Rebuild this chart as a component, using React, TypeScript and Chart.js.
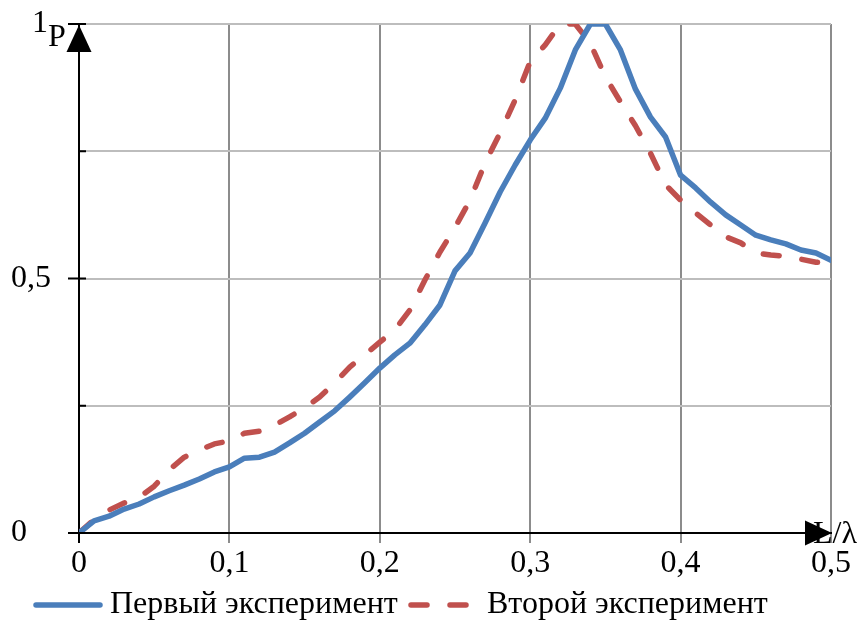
import React, { useEffect, useRef } from "react";
import { Chart, registerables } from "chart.js";

Chart.register(...registerables);

const xValues = [
  0, 0.01, 0.02, 0.03, 0.04, 0.05, 0.06, 0.07, 0.08, 0.09,
  0.1, 0.11, 0.12, 0.13, 0.14, 0.15, 0.16, 0.17, 0.18, 0.19,
  0.2, 0.21, 0.22, 0.23, 0.24, 0.25, 0.26, 0.27, 0.28, 0.29,
  0.3, 0.31, 0.32, 0.33, 0.34, 0.35, 0.36, 0.37, 0.38, 0.39,
  0.4, 0.41, 0.42, 0.43, 0.44, 0.45, 0.46, 0.47, 0.48, 0.49, 0.5,
];

const firstExperiment = [
  0, 0.024, 0.033, 0.047, 0.057, 0.071, 0.083, 0.094, 0.106, 0.12,
  0.13, 0.147, 0.149, 0.159, 0.177, 0.196, 0.218, 0.24, 0.267, 0.295,
  0.324, 0.35, 0.373, 0.409, 0.448, 0.515, 0.55, 0.609, 0.67, 0.723,
  0.772, 0.815, 0.874, 0.949, 1.0, 1.0, 0.949, 0.872, 0.817, 0.778,
  0.703, 0.678, 0.65, 0.625, 0.605, 0.585, 0.576, 0.568, 0.556, 0.55, 0.536,
];

const secondExperiment = [
  0, 0.026, 0.045, 0.059, 0.07, 0.092, 0.124, 0.149, 0.163, 0.175,
  0.181, 0.196, 0.2, 0.212, 0.228, 0.246, 0.267, 0.295, 0.326, 0.35,
  0.375, 0.399, 0.438, 0.497, 0.552, 0.6, 0.654, 0.727, 0.786, 0.851,
  0.926, 0.959, 1.0, 1.0, 0.962, 0.896, 0.847, 0.8, 0.746, 0.684,
  0.654, 0.629, 0.605, 0.582, 0.57, 0.55, 0.546, 0.544, 0.538, 0.532, 0.53,
];

const seriesLabels = ["Первый эксперимент", "Второй эксперимент"];
const yLabeled = [0, 0.5];
const yMajorTicks = [0, 0.5, 1];
const yMinorTicks = [0.25, 0.75];
const yTopLabel = "1";
const yAxisTitle = "P";
const xAxisTitle = "L/λ";

const BLUE = "#4a7ebb";
const RED = "#c0504d";
const FONT_FAMILY = "'Times New Roman', 'Liberation Serif', serif";
const FONT_SIZE = 32;
const LINE_W = 5.5;
const DASH = [16, 23];

const fmt = (v: number) => {
  const r = Math.round(v * 100) / 100;
  return String(r).replace(".", ",");
};

const decor = {
  id: "decor",
  afterDraw(chart: any) {
    const { ctx, chartArea, scales } = chart;
    const xs = scales.x;
    const ys = scales.y;
    const x0 = xs.getPixelForValue(0);
    const y0 = ys.getPixelForValue(0);
    ctx.save();
    ctx.strokeStyle = "#000";
    ctx.lineWidth = 2;
    yMajorTicks.forEach((v) => {
      const y = ys.getPixelForValue(v);
      ctx.beginPath();
      ctx.moveTo(x0 - 11, y);
      ctx.lineTo(x0 + 7, y);
      ctx.stroke();
    });
    yMinorTicks.forEach((v) => {
      const y = ys.getPixelForValue(v);
      ctx.beginPath();
      ctx.moveTo(x0, y);
      ctx.lineTo(x0 + 7, y);
      ctx.stroke();
    });
    ctx.fillStyle = "#000";
    ctx.font = `${FONT_SIZE}px ${FONT_FAMILY}`;
    const yTop = ys.getPixelForValue(1);
    ctx.textAlign = "right";
    ctx.textBaseline = "middle";
    ctx.fillText(yTopLabel, 48, yTop);
    ctx.textAlign = "left";
    ctx.textBaseline = "alphabetic";
    ctx.fillText(yAxisTitle, 48, yTop + 22);
    ctx.fillText(xAxisTitle, chartArea.right - 18, y0 + 10);
    ctx.beginPath();
    ctx.moveTo(x0, chartArea.top + 1);
    ctx.lineTo(x0 - 12.5, chartArea.top + 28);
    ctx.lineTo(x0 + 12.5, chartArea.top + 28);
    ctx.closePath();
    ctx.fill();
    const xr = chartArea.right + 1;
    ctx.beginPath();
    ctx.moveTo(xr, y0);
    ctx.lineTo(xr - 27, y0 - 12.5);
    ctx.lineTo(xr - 27, y0 + 12.5);
    ctx.closePath();
    ctx.fill();
    const ly = 605;
    ctx.lineWidth = LINE_W;
    ctx.lineCap = "round";
    ctx.strokeStyle = BLUE;
    ctx.setLineDash([]);
    ctx.beginPath();
    ctx.moveTo(36, ly);
    ctx.lineTo(100, ly);
    ctx.stroke();
    ctx.strokeStyle = RED;
    ctx.setLineDash(DASH);
    ctx.beginPath();
    ctx.moveTo(411, ly);
    ctx.lineTo(468, ly);
    ctx.stroke();
    ctx.setLineDash([]);
    ctx.textBaseline = "middle";
    ctx.fillText(seriesLabels[0], 110, ly);
    ctx.fillText(seriesLabels[1], 487, ly);
    ctx.restore();
  },
};

export default function App() {
  const ref = useRef<HTMLCanvasElement | null>(null);
  useEffect(() => {
    if (!ref.current) return;
    const font = { family: FONT_FAMILY, size: FONT_SIZE };
    const chart = new Chart(ref.current, {
      type: "line",
      data: {
        datasets: [
          {
            label: seriesLabels[0],
            data: xValues.map((x, i) => ({ x, y: firstExperiment[i] })),
            borderColor: BLUE,
            backgroundColor: BLUE,
            borderWidth: LINE_W,
            pointRadius: 0,
            tension: 0,
            borderJoinStyle: "round",
            borderCapStyle: "round",
            fill: false,
          },
          {
            label: seriesLabels[1],
            data: xValues.map((x, i) => ({ x, y: secondExperiment[i] })),
            borderColor: RED,
            backgroundColor: RED,
            borderWidth: LINE_W,
            borderDash: DASH,
            pointRadius: 0,
            tension: 0,
            borderJoinStyle: "round",
            borderCapStyle: "round",
            fill: false,
          },
        ],
      },
      options: {
        responsive: false,
        animation: false,
        devicePixelRatio: 1,
        layout: { padding: { left: 11, top: 24, right: 34, bottom: 0 } },
        plugins: { legend: { display: false }, tooltip: { enabled: false } },
        scales: {
          x: {
            type: "linear",
            min: 0,
            max: 0.5,
            ticks: {
              stepSize: 0.1,
              callback: (v: any) => fmt(Number(v)),
              font,
              color: "#000",
              padding: 1,
              maxRotation: 0,
            },
            grid: {
              color: (c: any) => (c.index === 0 ? "#000" : "#8c8c8c"),
              lineWidth: 2,
              tickLength: 10,
            },
            border: { color: "#000", width: 2 },
            afterFit: (s: any) => {
              s.height = 90;
              s.paddingLeft = 0;
              s.paddingRight = 0;
            },
          },
          y: {
            type: "linear",
            min: 0,
            max: 1,
            ticks: {
              stepSize: 0.25,
              callback: (v: any) => (yLabeled.includes(Number(v)) ? fmt(Number(v)) : ""),
              font,
              color: "#000",
              crossAlign: "far",
            },
            grid: { color: "#bdbdbd", lineWidth: 2, drawTicks: false },
            border: { color: "#000", width: 2 },
            afterFit: (s: any) => {
              s.width = 68;
              s.paddingTop = 0;
              s.paddingBottom = 0;
            },
          },
        },
      },
      plugins: [decor],
    } as any);
    return () => chart.destroy();
  }, []);
  return (
    <div style={{ position: "fixed", left: 0, top: 0, width: 865, height: 623, background: "#fff" }}>
      <canvas ref={ref} width={865} height={623} style={{ width: 865, height: 623 }} />
    </div>
  );
}
